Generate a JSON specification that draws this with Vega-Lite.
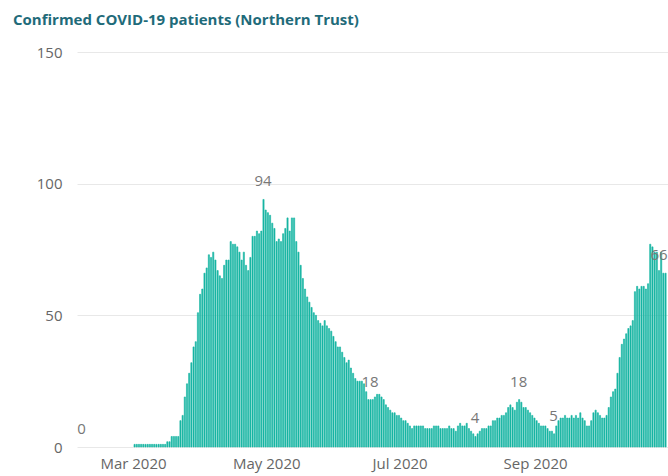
{
  "$schema": "https://vega.github.io/schema/vega-lite/v6.json",
  "width": 591,
  "height": 395,
  "autosize": {"type": "none"},
  "padding": {"left": 77, "top": 52, "right": 0, "bottom": 29},
  "background": "white",
  "title": {
    "text": "Confirmed COVID-19 patients (Northern Trust)",
    "anchor": "start",
    "frame": "group",
    "dx": -64,
    "offset": 5,
    "baseline": "alphabetic",
    "font": "Open Sans",
    "fontSize": 15,
    "fontWeight": "bold",
    "color": "#1f6b7a"
  },
  "data": {
    "format": {"parse": {"date": "utc:'%Y-%m-%d'"}},
    "values": [
      {"date":"2020-02-06","patients":0},{"date":"2020-02-07","patients":0},{"date":"2020-02-08","patients":0},{"date":"2020-02-09","patients":0},{"date":"2020-02-10","patients":0},{"date":"2020-02-11","patients":0},{"date":"2020-02-12","patients":0},{"date":"2020-02-13","patients":0},{"date":"2020-02-14","patients":0},{"date":"2020-02-15","patients":0},{"date":"2020-02-16","patients":0},{"date":"2020-02-17","patients":0},{"date":"2020-02-18","patients":0},{"date":"2020-02-19","patients":0},{"date":"2020-02-20","patients":0},{"date":"2020-02-21","patients":0},{"date":"2020-02-22","patients":0},{"date":"2020-02-23","patients":0},{"date":"2020-02-24","patients":0},{"date":"2020-02-25","patients":0},{"date":"2020-02-26","patients":0},{"date":"2020-02-27","patients":0},{"date":"2020-02-28","patients":0},{"date":"2020-02-29","patients":0},
      {"date":"2020-03-01","patients":1},{"date":"2020-03-02","patients":1},{"date":"2020-03-03","patients":1},{"date":"2020-03-04","patients":1},{"date":"2020-03-05","patients":1},{"date":"2020-03-06","patients":1},{"date":"2020-03-07","patients":1},{"date":"2020-03-08","patients":1},{"date":"2020-03-09","patients":1},{"date":"2020-03-10","patients":1},{"date":"2020-03-11","patients":1},{"date":"2020-03-12","patients":1},{"date":"2020-03-13","patients":1},{"date":"2020-03-14","patients":1},{"date":"2020-03-15","patients":1},{"date":"2020-03-16","patients":2},{"date":"2020-03-17","patients":2},{"date":"2020-03-18","patients":4},{"date":"2020-03-19","patients":4},{"date":"2020-03-20","patients":4},{"date":"2020-03-21","patients":4},{"date":"2020-03-22","patients":10},{"date":"2020-03-23","patients":12},{"date":"2020-03-24","patients":19},{"date":"2020-03-25","patients":24},{"date":"2020-03-26","patients":28},{"date":"2020-03-27","patients":32},{"date":"2020-03-28","patients":38},{"date":"2020-03-29","patients":40},{"date":"2020-03-30","patients":51},{"date":"2020-03-31","patients":58},
      {"date":"2020-04-01","patients":60},{"date":"2020-04-02","patients":66},{"date":"2020-04-03","patients":68},{"date":"2020-04-04","patients":73},{"date":"2020-04-05","patients":72},{"date":"2020-04-06","patients":74},{"date":"2020-04-07","patients":71},{"date":"2020-04-08","patients":67},{"date":"2020-04-09","patients":65},{"date":"2020-04-10","patients":64},{"date":"2020-04-11","patients":69},{"date":"2020-04-12","patients":71},{"date":"2020-04-13","patients":71},{"date":"2020-04-14","patients":78},{"date":"2020-04-15","patients":77},{"date":"2020-04-16","patients":77},{"date":"2020-04-17","patients":76},{"date":"2020-04-18","patients":74},{"date":"2020-04-19","patients":71},{"date":"2020-04-20","patients":74},{"date":"2020-04-21","patients":69},{"date":"2020-04-22","patients":67},{"date":"2020-04-23","patients":72},{"date":"2020-04-24","patients":80},{"date":"2020-04-25","patients":80},{"date":"2020-04-26","patients":82},{"date":"2020-04-27","patients":81},{"date":"2020-04-28","patients":82},{"date":"2020-04-29","patients":94},{"date":"2020-04-30","patients":90},
      {"date":"2020-05-01","patients":89},{"date":"2020-05-02","patients":88},{"date":"2020-05-03","patients":85},{"date":"2020-05-04","patients":83},{"date":"2020-05-05","patients":78},{"date":"2020-05-06","patients":79},{"date":"2020-05-07","patients":78},{"date":"2020-05-08","patients":81},{"date":"2020-05-09","patients":83},{"date":"2020-05-10","patients":87},{"date":"2020-05-11","patients":82},{"date":"2020-05-12","patients":87},{"date":"2020-05-13","patients":87},{"date":"2020-05-14","patients":78},{"date":"2020-05-15","patients":74},{"date":"2020-05-16","patients":69},{"date":"2020-05-17","patients":64},{"date":"2020-05-18","patients":60},{"date":"2020-05-19","patients":57},{"date":"2020-05-20","patients":55},{"date":"2020-05-21","patients":53},{"date":"2020-05-22","patients":51},{"date":"2020-05-23","patients":50},{"date":"2020-05-24","patients":48},{"date":"2020-05-25","patients":47},{"date":"2020-05-26","patients":46},{"date":"2020-05-27","patients":48},{"date":"2020-05-28","patients":46},{"date":"2020-05-29","patients":45},{"date":"2020-05-30","patients":44},{"date":"2020-05-31","patients":42},
      {"date":"2020-06-01","patients":40},{"date":"2020-06-02","patients":38},{"date":"2020-06-03","patients":38},{"date":"2020-06-04","patients":36},{"date":"2020-06-05","patients":34},{"date":"2020-06-06","patients":32},{"date":"2020-06-07","patients":33},{"date":"2020-06-08","patients":30},{"date":"2020-06-09","patients":28},{"date":"2020-06-10","patients":26},{"date":"2020-06-11","patients":25},{"date":"2020-06-12","patients":25},{"date":"2020-06-13","patients":25},{"date":"2020-06-14","patients":24},{"date":"2020-06-15","patients":21},{"date":"2020-06-16","patients":18},{"date":"2020-06-17","patients":18},{"date":"2020-06-18","patients":18},{"date":"2020-06-19","patients":19},{"date":"2020-06-20","patients":20},{"date":"2020-06-21","patients":20},{"date":"2020-06-22","patients":19},{"date":"2020-06-23","patients":18},{"date":"2020-06-24","patients":16},{"date":"2020-06-25","patients":15},{"date":"2020-06-26","patients":14},{"date":"2020-06-27","patients":13},{"date":"2020-06-28","patients":13},{"date":"2020-06-29","patients":12},{"date":"2020-06-30","patients":12},
      {"date":"2020-07-01","patients":11},{"date":"2020-07-02","patients":10},{"date":"2020-07-03","patients":10},{"date":"2020-07-04","patients":9},{"date":"2020-07-05","patients":8},{"date":"2020-07-06","patients":7},{"date":"2020-07-07","patients":8},{"date":"2020-07-08","patients":8},{"date":"2020-07-09","patients":8},{"date":"2020-07-10","patients":8},{"date":"2020-07-11","patients":8},{"date":"2020-07-12","patients":7},{"date":"2020-07-13","patients":7},{"date":"2020-07-14","patients":7},{"date":"2020-07-15","patients":7},{"date":"2020-07-16","patients":8},{"date":"2020-07-17","patients":8},{"date":"2020-07-18","patients":8},{"date":"2020-07-19","patients":7},{"date":"2020-07-20","patients":7},{"date":"2020-07-21","patients":7},{"date":"2020-07-22","patients":7},{"date":"2020-07-23","patients":8},{"date":"2020-07-24","patients":7},{"date":"2020-07-25","patients":7},{"date":"2020-07-26","patients":6},{"date":"2020-07-27","patients":8},{"date":"2020-07-28","patients":9},{"date":"2020-07-29","patients":8},{"date":"2020-07-30","patients":8},{"date":"2020-07-31","patients":9},
      {"date":"2020-08-01","patients":7},{"date":"2020-08-02","patients":6},{"date":"2020-08-03","patients":5},{"date":"2020-08-04","patients":4},{"date":"2020-08-05","patients":5},{"date":"2020-08-06","patients":6},{"date":"2020-08-07","patients":7},{"date":"2020-08-08","patients":7},{"date":"2020-08-09","patients":7},{"date":"2020-08-10","patients":8},{"date":"2020-08-11","patients":8},{"date":"2020-08-12","patients":10},{"date":"2020-08-13","patients":10},{"date":"2020-08-14","patients":11},{"date":"2020-08-15","patients":11},{"date":"2020-08-16","patients":12},{"date":"2020-08-17","patients":12},{"date":"2020-08-18","patients":13},{"date":"2020-08-19","patients":15},{"date":"2020-08-20","patients":16},{"date":"2020-08-21","patients":15},{"date":"2020-08-22","patients":14},{"date":"2020-08-23","patients":17},{"date":"2020-08-24","patients":18},{"date":"2020-08-25","patients":17},{"date":"2020-08-26","patients":15},{"date":"2020-08-27","patients":15},{"date":"2020-08-28","patients":14},{"date":"2020-08-29","patients":13},{"date":"2020-08-30","patients":12},{"date":"2020-08-31","patients":11},
      {"date":"2020-09-01","patients":10},{"date":"2020-09-02","patients":9},{"date":"2020-09-03","patients":8},{"date":"2020-09-04","patients":8},{"date":"2020-09-05","patients":8},{"date":"2020-09-06","patients":7},{"date":"2020-09-07","patients":6},{"date":"2020-09-08","patients":6},{"date":"2020-09-09","patients":5},{"date":"2020-09-10","patients":8},{"date":"2020-09-11","patients":10},{"date":"2020-09-12","patients":11},{"date":"2020-09-13","patients":11},{"date":"2020-09-14","patients":12},{"date":"2020-09-15","patients":11},{"date":"2020-09-16","patients":11},{"date":"2020-09-17","patients":12},{"date":"2020-09-18","patients":11},{"date":"2020-09-19","patients":12},{"date":"2020-09-20","patients":11},{"date":"2020-09-21","patients":13},{"date":"2020-09-22","patients":11},{"date":"2020-09-23","patients":10},{"date":"2020-09-24","patients":8},{"date":"2020-09-25","patients":8},{"date":"2020-09-26","patients":10},{"date":"2020-09-27","patients":13},{"date":"2020-09-28","patients":14},{"date":"2020-09-29","patients":13},{"date":"2020-09-30","patients":12},
      {"date":"2020-10-01","patients":11},{"date":"2020-10-02","patients":11},{"date":"2020-10-03","patients":12},{"date":"2020-10-04","patients":15},{"date":"2020-10-05","patients":19},{"date":"2020-10-06","patients":21},{"date":"2020-10-07","patients":22},{"date":"2020-10-08","patients":28},{"date":"2020-10-09","patients":34},{"date":"2020-10-10","patients":39},{"date":"2020-10-11","patients":41},{"date":"2020-10-12","patients":43},{"date":"2020-10-13","patients":45},{"date":"2020-10-14","patients":46},{"date":"2020-10-15","patients":48},{"date":"2020-10-16","patients":59},{"date":"2020-10-17","patients":61},{"date":"2020-10-18","patients":60},{"date":"2020-10-19","patients":61},{"date":"2020-10-20","patients":61},{"date":"2020-10-21","patients":60},{"date":"2020-10-22","patients":62},{"date":"2020-10-23","patients":77},{"date":"2020-10-24","patients":76},{"date":"2020-10-25","patients":74},{"date":"2020-10-26","patients":74},{"date":"2020-10-27","patients":67},{"date":"2020-10-28","patients":74},{"date":"2020-10-29","patients":66},{"date":"2020-10-30","patients":66}
    ]
  },
  "encoding": {
    "x": {
      "field": "date",
      "timeUnit": "utcyearmonthdate",
      "type": "temporal",
      "scale": {
        "type": "utc",
        "nice": false,
        "domain": [
          {"year": 2020, "month": 2, "date": 4, "hours": 9, "utc": true},
          {"year": 2020, "month": 10, "date": 31, "hours": 20, "minutes": 24, "utc": true}
        ]
      },
      "axis": {
        "title": null,
        "values": [
          {"year": 2020, "month": 3, "date": 1, "utc": true},
          {"year": 2020, "month": 5, "date": 1, "utc": true},
          {"year": 2020, "month": 7, "date": 1, "utc": true},
          {"year": 2020, "month": 9, "date": 1, "utc": true}
        ],
        "format": "%b %Y",
        "domain": false,
        "ticks": false,
        "grid": false,
        "labelPadding": 9,
        "labelFont": "Open Sans",
        "labelFontSize": 15,
        "labelColor": "#666666"
      }
    },
    "y": {
      "field": "patients",
      "type": "quantitative",
      "scale": {"domain": [0, 150], "nice": false},
      "axis": {
        "title": null,
        "values": [0, 50, 100, 150],
        "domain": false,
        "ticks": false,
        "labelPadding": 15,
        "labelFont": "Open Sans",
        "labelFontSize": 15,
        "labelColor": "#666666",
        "gridColor": "#e8e8e8",
        "gridWidth": 1
      }
    }
  },
  "layer": [
    {
      "transform": [{"filter": "datum.patients > 0"}],
      "mark": {"type": "bar", "color": "#17b5a3", "stroke": "#17b5a3", "strokeWidth": 0.6}
    },
    {
      "transform": [
        {"filter": "indexof(['2020-02-06','2020-04-29','2020-06-17','2020-08-04','2020-08-24','2020-09-09'], utcFormat(datum.date, '%Y-%m-%d')) >= 0"}
      ],
      "mark": {
        "type": "text",
        "baseline": "middle",
        "align": "center",
        "dy": -18,
        "font": "Open Sans",
        "fontSize": 15,
        "color": "#777777"
      },
      "encoding": {
        "x": {
          "field": "date",
          "timeUnit": "utcyearmonthdate",
          "type": "temporal",
          "bandPosition": 0.5
        },
        "text": {"field": "patients", "type": "quantitative"}
      }
    },
    {
      "transform": [
        {"filter": "utcFormat(datum.date, '%Y-%m-%d') === '2020-10-30'"}
      ],
      "mark": {
        "type": "text",
        "baseline": "middle",
        "align": "center",
        "dx": -6,
        "dy": -18,
        "font": "Open Sans",
        "fontSize": 15,
        "color": "#777777"
      },
      "encoding": {
        "x": {
          "field": "date",
          "timeUnit": "utcyearmonthdate",
          "type": "temporal",
          "bandPosition": 0.5
        },
        "text": {"field": "patients", "type": "quantitative"}
      }
    }
  ],
  "config": {
    "view": {"stroke": null}
  }
}
